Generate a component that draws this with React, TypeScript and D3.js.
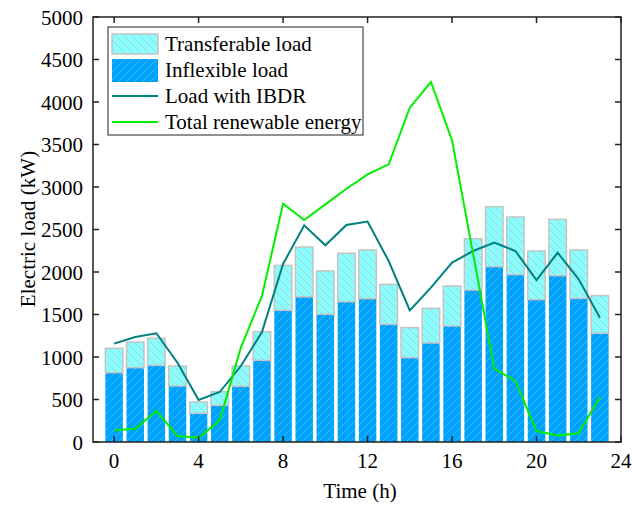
import React from "react";
import * as d3 from "d3";

const hours = d3.range(0, 24);
const inflexible = [815, 874, 902, 659, 337, 431, 655, 961, 1549, 1708, 1502, 1650, 1686, 1384, 992, 1165, 1365, 1788, 2063, 1969, 1675, 1957, 1690, 1279];
const totalLoad = [1102, 1176, 1220, 894, 470, 592, 894, 1298, 2078, 2294, 2012, 2220, 2259, 1855, 1345, 1573, 1835, 2392, 2769, 2647, 2247, 2620, 2259, 1722];
const ibdr = [1157, 1235, 1279, 933, 494, 588, 894, 1294, 2095, 2549, 2314, 2553, 2594, 2129, 1549, 1816, 2110, 2247, 2345, 2247, 1906, 2227, 1914, 1463];
const renewable = [137, 157, 365, 71, 51, 255, 1110, 1718, 2804, 2612, 2796, 2980, 3149, 3267, 3933, 4235, 3549, 2210, 862, 718, 129, 78, 102, 529];
const xTicks = [0, 4, 8, 12, 16, 20, 24];
const yTicks = [0, 500, 1000, 1500, 2000, 2500, 3000, 3500, 4000, 4500, 5000];

const W = 632, H = 507;
const L = 93, R = 621, T = 17, B = 442;
const fontStyle = { fontFamily: "Liberation Serif" };
const FS = 21;

export default function App() {
  const x = d3.scaleLinear().domain([-1, 24]).range([L, R]);
  const y = d3.scaleLinear().domain([0, 5000]).range([B, T]);
  const bw = (x(1) - x(0)) * 0.83;
  const lineGen = d3.line<number>().x((_, i) => x(hours[i])).y((d) => y(d));
  const tick = 6;
  return (
    <svg width={W} height={H} style={{ position: "absolute", left: 0, top: 0 }}>
      <defs>
        <pattern id="hatchBlue" patternUnits="userSpaceOnUse" width="8" height="8">
          <rect width="8" height="8" fill="#00A0FF" />
          <path d="M-2,2 L2,-2 M0,8 L8,0 M6,10 L10,6" stroke="#3CC8F0" strokeWidth="0.8" />
        </pattern>
        <pattern id="hatchCyan" patternUnits="userSpaceOnUse" width="8" height="8">
          <rect width="8" height="8" fill="#88FFFF" />
          <path d="M-2,6 L2,10 M0,0 L8,8 M6,-2 L10,2" stroke="#B8C8C8" strokeWidth="0.9" />
        </pattern>
      </defs>
      <rect x={0} y={0} width={W} height={H} fill="white" />
      {hours.map((h, i) => (
        <g key={h}>
          <rect x={x(h) - bw / 2} y={y(inflexible[i])} width={bw} height={y(0) - y(inflexible[i])} fill="url(#hatchBlue)" />
          <rect x={x(h) - bw / 2} y={y(totalLoad[i])} width={bw} height={y(inflexible[i]) - y(totalLoad[i])} fill="url(#hatchCyan)" stroke="#C4C4C4" strokeWidth={1.5} />
        </g>
      ))}
      <path d={lineGen(ibdr) || ""} fill="none" stroke="#008080" strokeWidth={2} />
      <path d={lineGen(renewable) || ""} fill="none" stroke="#00EE00" strokeWidth={2} />
      <rect x={L} y={T} width={R - L} height={B - T} fill="none" stroke="#222" strokeWidth={1.5} />
      {xTicks.map((t) => (
        <g key={"x" + t}>
          <line x1={x(t)} x2={x(t)} y1={B} y2={B - tick} stroke="#222" strokeWidth={1.5} />
          <line x1={x(t)} x2={x(t)} y1={T} y2={T + tick} stroke="#222" strokeWidth={1.5} />
          <text x={x(t)} y={468} textAnchor="middle" fontSize={FS} style={fontStyle}>{t}</text>
        </g>
      ))}
      {yTicks.map((t) => (
        <g key={"y" + t}>
          <line x1={L} x2={L + tick} y1={y(t)} y2={y(t)} stroke="#222" strokeWidth={1.5} />
          <line x1={R} x2={R - tick} y1={y(t)} y2={y(t)} stroke="#222" strokeWidth={1.5} />
          <text x={83} y={y(t) + 7.5} textAnchor="end" fontSize={FS} style={fontStyle}>{t}</text>
        </g>
      ))}
      <text x={360} y={498} textAnchor="middle" fontSize={FS} style={fontStyle}>Time (h)</text>
      <text transform={`translate(35,229) rotate(-90)`} textAnchor="middle" fontSize={FS} style={fontStyle}>Electric load (kW)</text>
      <g>
        <rect x={108} y={27} width={255} height={108} fill="white" stroke="#222" strokeWidth={1} />
        <rect x={112} y={34} width={46} height={20} fill="url(#hatchCyan)" stroke="#C4C4C4" strokeWidth={1.5} />
        <rect x={112} y={59} width={46} height={23} fill="url(#hatchBlue)" />
        <line x1={112} x2={158} y1={96} y2={96} stroke="#008080" strokeWidth={2} />
        <line x1={112} x2={158} y1={122} y2={122} stroke="#00EE00" strokeWidth={2} />
        <text x={165} y={51} fontSize={FS} style={fontStyle}>Transferable load</text>
        <text x={165} y={77} fontSize={FS} style={fontStyle}>Inflexible load</text>
        <text x={165} y={103} fontSize={FS} style={fontStyle}>Load with IBDR</text>
        <text x={165} y={129} fontSize={FS} style={fontStyle}>Total renewable energy</text>
      </g>
    </svg>
  );
}
